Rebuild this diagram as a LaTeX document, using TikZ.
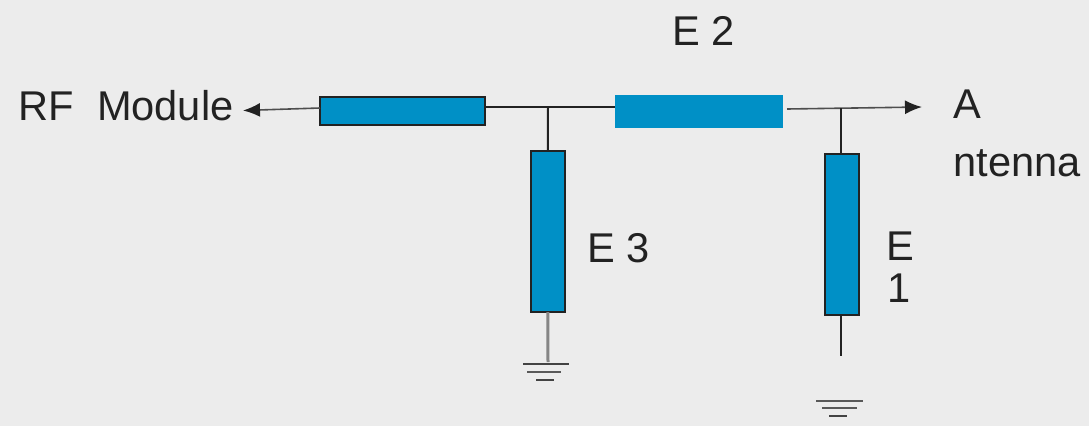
\documentclass[tikz,border=0pt]{standalone}
\usepackage{fontspec}
\setmainfont{Liberation Sans}
\usetikzlibrary{arrows.meta}
\definecolor{bgc}{HTML}{ECECEC}
\definecolor{blu}{HTML}{0090C6}
\definecolor{ink}{HTML}{222222}
\tikzset{
  x=1pt,y=-1pt,
  elem/.style={rectangle,fill=blu,inner sep=0pt,outer sep=0pt,anchor=north west},
  boxed/.style={elem,draw=ink,line width=2pt},
  lab/.style={anchor=base west,inner sep=0pt,outer sep=0pt,text=ink,font=\fontsize{41.6}{50}\selectfont},
  wire/.style={draw=ink,line width=2pt},
  thin wire/.style={draw=ink!80,line width=1.6pt},
  gnd/.style={draw=ink!85,line width=2pt},
  arr/.style={thin wire,-{Latex[length=17pt,width=14pt,color=ink]}},
}
\begin{document}
\begin{tikzpicture}
\useasboundingbox (0,0) rectangle (1089,426);
\fill[bgc] (0,0) rectangle (1089,426);
% elements
\node[boxed,minimum width=165pt,minimum height=28pt] (e0) at (320,97) {};
\node[elem,minimum width=168pt,minimum height=33pt] (e2) at (615,95) {};
\node[boxed,minimum width=33.5pt,minimum height=161pt] (e3) at (531,151) {};
\node[boxed,minimum width=33.5pt,minimum height=161pt] (e1) at (825,154) {};
% labels
\node[lab] (lrf) at (18.5,120) {RF\ \ Module};
\node[lab] (le2) at (672.5,45) {E 2};
\node[lab] (le3) at (587.5,262) {E 3};
\node[lab] (le1a) at (886.5,260) {E};
\node[lab] (le1b) at (887.5,302) {1};
\node[lab] (la) at (953.5,118) {A};
\node[lab] (lb) at (953.5,176) {ntenna};
% junctions and free ends
\coordinate (j1) at (548,107);
\coordinate (j2) at (840.5,108);
\coordinate (rfend) at (243,110.5);
\coordinate (antend) at (922,107);
\coordinate (e0w) at (320,108);
\coordinate (e2e) at (787,109);
\coordinate (g3) at (546,364);
\coordinate (g3b) at (544,372);
\coordinate (g3c) at (545,380);
\coordinate (s3) at (548,362);
\coordinate (g1) at (840,401);
\coordinate (g1b) at (840,408);
\coordinate (g1c) at (838,415.5);
\coordinate (s1) at (841,356);
% connectors
\draw[arr] (e0w) -- (rfend);
\draw[wire] (e0.east |- j1) -- (j1) -- (e2.west |- j1);
\draw[wire] (j1) -- (e3.north);
\draw[arr] (e2e) -- (antend);
\draw[wire] (j2) -- (j2 |- e1.north);
\draw[draw=ink!55,line width=3pt] (e3.south) -- (s3);
\draw[wire,line width=1.5pt] (e1.south -| s1) -- (s1);
% grounds
\draw[gnd] (g3) ++(-23,0) -- ++(46,0);
\draw[gnd,ink!75] (g3b) ++(-17,0) -- ++(34,0);
\draw[gnd] (g3c) ++(-9,0) -- ++(18,0);
\draw[gnd,ink!75] (g1) ++(-24,0) -- ++(47,0);
\draw[gnd,ink!75] (g1b) ++(-18,0) -- ++(35,0);
\draw[gnd] (g1c) ++(-9,0) -- ++(18,0);
\end{tikzpicture}
\end{document}
